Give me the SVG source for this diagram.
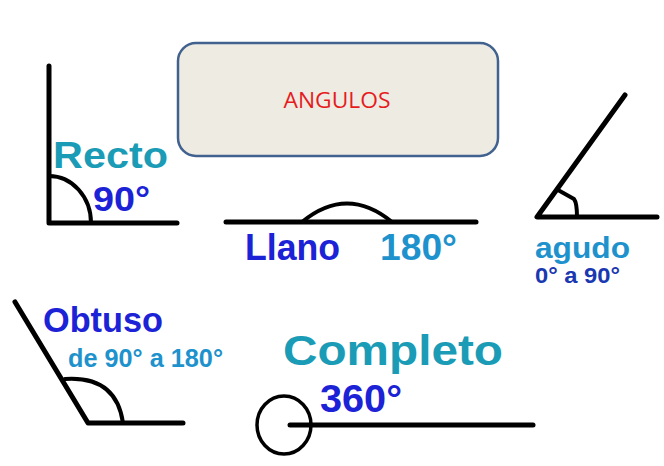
<svg xmlns="http://www.w3.org/2000/svg" width="664" height="466" viewBox="0 0 664 466">
  <style>
    .ln { fill: none; stroke: #000; stroke-width: 5; stroke-linecap: round; stroke-linejoin: round; }
    .arc { fill: none; stroke: #000; stroke-width: 4; stroke-linecap: round; stroke-linejoin: round; }
    .lbl { font-family: "Liberation Sans", Arial, sans-serif; font-weight: bold; }
    .teal { fill: #1a9bb6; }
    .blue { fill: #1c22d6; }
    .sky { fill: #1e92cc; }
    .navy { fill: #1a38b0; }
  </style>
  <rect width="664" height="466" fill="#fff"/>

  <!-- title box -->
  <g id="title">
    <rect x="178" y="43" width="320" height="113" rx="18" fill="#eeebe3" stroke="#41618f" stroke-width="2.5"/>
    <text x="337" y="108" text-anchor="middle" font-family="'Open Sans', 'Liberation Sans', sans-serif" font-size="22" fill="#e61c1c" textLength="107" lengthAdjust="spacingAndGlyphs">ANGULOS</text>
  </g>

  <!-- right angle -->
  <g id="recto">
    <path class="ln" d="M49,66 L49,223 L177,223"/>
    <path class="arc" d="M49,176 A42,47 0 0 1 91,223"/>
    <text class="lbl teal" x="53" y="168" font-size="37" textLength="115" lengthAdjust="spacingAndGlyphs">Recto</text>
    <text class="lbl blue" x="93" y="211" font-size="35" textLength="57" lengthAdjust="spacingAndGlyphs">90°</text>
  </g>

  <!-- straight angle -->
  <g id="llano">
    <path class="ln" d="M226,222 L476,222"/>
    <path class="arc" d="M302,222 Q347,185 392,222"/>
    <text class="lbl blue" x="245" y="260" font-size="37" textLength="95" lengthAdjust="spacingAndGlyphs">Llano</text>
    <text class="lbl sky" x="380" y="260" font-size="37" textLength="77" lengthAdjust="spacingAndGlyphs">180°</text>
  </g>

  <!-- acute angle -->
  <g id="agudo">
    <path class="ln" d="M625,95 L537,217 L657,217"/>
    <path class="arc" d="M558,190 L574,199 Q577,203 577,217"/>
    <text class="lbl sky" x="535" y="258" font-size="29" textLength="95" lengthAdjust="spacingAndGlyphs">agudo</text>
    <text class="lbl navy" x="535" y="283" font-size="22" textLength="85" lengthAdjust="spacingAndGlyphs">0° a 90°</text>
  </g>

  <!-- obtuse angle -->
  <g id="obtuso">
    <path class="ln" d="M15,302 L88,423 L183,423"/>
    <path class="arc" d="M65,379 C95,377 118,388 123,423"/>
    <text class="lbl blue" x="43" y="332" font-size="35" textLength="120" lengthAdjust="spacingAndGlyphs">Obtuso</text>
    <text class="lbl sky" x="68" y="367" font-size="25" textLength="155" lengthAdjust="spacingAndGlyphs">de 90° a 180°</text>
  </g>

  <!-- full angle -->
  <g id="completo">
    <ellipse cx="284" cy="425" rx="27" ry="29" fill="none" stroke="#000" stroke-width="3.5"/>
    <path class="ln" d="M290,425 L533,425"/>
    <text class="lbl teal" x="283" y="365" font-size="42" textLength="220" lengthAdjust="spacingAndGlyphs">Completo</text>
    <text class="lbl blue" x="320" y="412" font-size="38" textLength="82" lengthAdjust="spacingAndGlyphs">360°</text>
  </g>
</svg>
